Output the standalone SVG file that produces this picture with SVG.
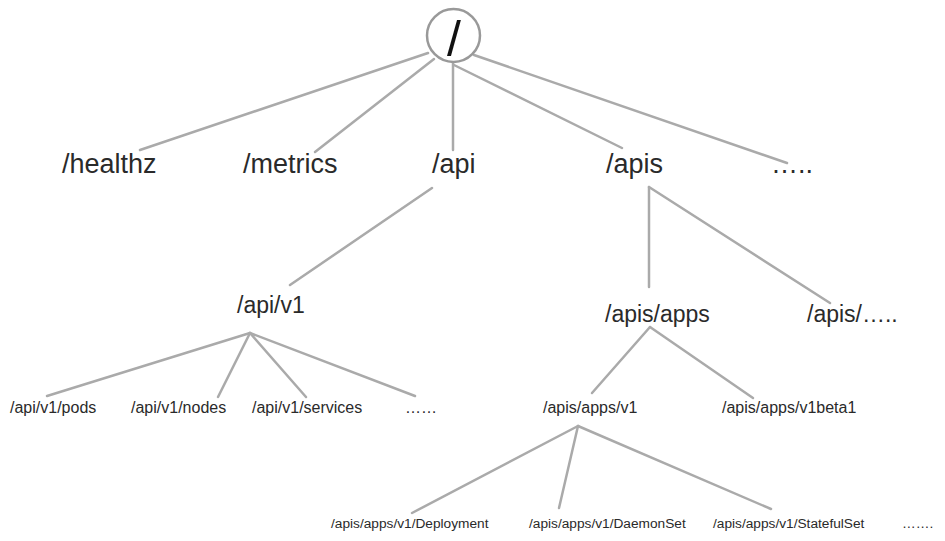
<svg xmlns="http://www.w3.org/2000/svg" width="945" height="541" viewBox="0 0 945 541">
<style>
text{font-family:"Liberation Sans",Arial,sans-serif;fill:#2a2a2a}
.l1{font-size:27px}
.l2{font-size:23px}
.l3{font-size:16px}
.l4{font-size:13.7px}
.c line{stroke:#aaaaaa;stroke-width:2.5;stroke-linecap:round}
</style>
<rect width="945" height="541" fill="#ffffff"/>
<g id="connectors" class="c">
<line x1="428" y1="53" x2="140" y2="150"/>
<line x1="434" y1="59" x2="315" y2="152"/>
<line x1="453" y1="63" x2="453" y2="150"/>
<line x1="454" y1="65" x2="622" y2="148"/>
<line x1="474" y1="55" x2="787" y2="163"/>
<line x1="432" y1="188" x2="290" y2="285"/>
<line x1="649" y1="187" x2="649" y2="287"/>
<line x1="649" y1="187" x2="830" y2="303"/>
<line x1="250" y1="333" x2="47" y2="396"/>
<line x1="250" y1="333" x2="218" y2="397"/>
<line x1="250" y1="333" x2="306" y2="397"/>
<line x1="250" y1="333" x2="415" y2="396"/>
<line x1="650" y1="327" x2="592" y2="393"/>
<line x1="650" y1="327" x2="753" y2="398"/>
<line x1="578" y1="426" x2="412" y2="513"/>
<line x1="578" y1="426" x2="559" y2="508"/>
<line x1="578" y1="426" x2="771" y2="509"/>
</g>
<g id="root">
<circle cx="453.5" cy="35.5" r="26.5" fill="#ffffff" stroke="#999999" stroke-width="2.5"/>
<text x="454" y="56" font-size="50" text-anchor="middle" style="fill:#111">/</text>
</g>
<g id="healthz"><text class="l1" x="62" y="173">/healthz</text></g>
<g id="metrics"><text class="l1" x="243" y="173">/metrics</text></g>
<g id="api"><text class="l1" x="432" y="173">/api</text></g>
<g id="apis"><text class="l1" x="606" y="173">/apis</text></g>
<g id="more1"><text class="l1" x="771" y="173">…..</text></g>
<g id="apiv1"><text class="l2" x="237" y="313">/api/v1</text></g>
<g id="apisapps"><text class="l2" x="605" y="322">/apis/apps</text></g>
<g id="apismore"><text class="l2" x="807" y="322">/apis/…..</text></g>
<g id="pods"><text class="l3" x="10" y="413">/api/v1/pods</text></g>
<g id="nodes"><text class="l3" x="131" y="413">/api/v1/nodes</text></g>
<g id="services"><text class="l3" x="252" y="413">/api/v1/services</text></g>
<g id="more2"><text class="l3" x="405" y="413">……</text></g>
<g id="appsv1"><text class="l3" x="543" y="413">/apis/apps/v1</text></g>
<g id="appsv1beta1"><text class="l3" x="722" y="413">/apis/apps/v1beta1</text></g>
<g id="deployment"><text class="l4" x="331" y="528">/apis/apps/v1/Deployment</text></g>
<g id="daemonset"><text class="l4" x="529" y="528">/apis/apps/v1/DaemonSet</text></g>
<g id="statefulset"><text class="l4" x="713" y="528">/apis/apps/v1/StatefulSet</text></g>
<g id="more3"><text class="l4" x="902" y="528">…….</text></g>
</svg>
